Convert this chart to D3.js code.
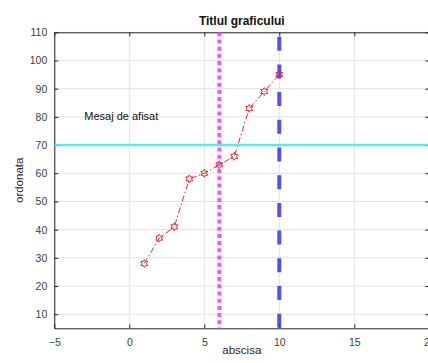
<!DOCTYPE html>
<html>
<head>
<meta charset="utf-8">
<script src="https://cdn.jsdelivr.net/npm/d3@7"></script>
<style>
  body { margin: 0; background: #fff; }
  svg { font-family: "Liberation Sans", Arial, sans-serif; }
</style>
</head>
<body>
<div id="chart"></div>
<script>
// data
var xVals = [1, 2, 3, 4, 5, 6, 7, 8, 9, 10];
var yVals = [28, 37, 41, 58, 60, 63, 66, 83, 89, 95];
var xTicks = [-5, 0, 5, 10, 15, 20];
var yTicks = [10, 20, 30, 40, 50, 60, 70, 80, 90, 100, 110];
var vLineMagenta = 6;
var vLineBlue = 10;
var hLineCyan = 70;
var note = {x: -3, y: 80, text: "Mesaj de afisat"};

var W = 428, H = 363;
var margin = {top: 32.3, left: 54.3},
    width = 375,
    height = 296;

var svg = d3.select("#chart")
    .append("svg")
        .attr("width", W)
        .attr("height", H)
    .append("g")
        .attr("transform", "translate(" + margin.left + "," + margin.top + ")");

var x = d3.scaleLinear().domain([-5, 20]).range([0, width]);
var y = d3.scaleLinear().domain([5, 110]).range([height, 0]);

// grid
svg.append("g")
    .selectAll("line")
    .data(xTicks)
    .enter().append("line")
        .attr("x1", function(d) { return x(d); })
        .attr("x2", function(d) { return x(d); })
        .attr("y1", 0).attr("y2", height)
        .attr("stroke", "#e3e3e3").attr("stroke-width", 1);
svg.append("g")
    .selectAll("line")
    .data(yTicks)
    .enter().append("line")
        .attr("y1", function(d) { return y(d); })
        .attr("y2", function(d) { return y(d); })
        .attr("x1", 0).attr("x2", width)
        .attr("stroke", "#e3e3e3").attr("stroke-width", 1);

// axes (ticks inward)
var axisColor = "#262626";
svg.append("g")
    .attr("transform", "translate(0," + height + ")")
    .call(d3.axisBottom(x).tickValues(xTicks).tickSizeInner(-4).tickSizeOuter(0).tickPadding(10));
svg.append("g")
    .call(d3.axisLeft(y).tickValues(yTicks).tickSizeInner(-4).tickSizeOuter(0).tickPadding(7));
svg.append("g")
    .call(d3.axisTop(x).tickValues(xTicks).tickSizeInner(-4).tickSizeOuter(0).tickFormat(""));
svg.append("g")
    .attr("transform", "translate(" + width + ",0)")
    .call(d3.axisRight(y).tickValues(yTicks).tickSizeInner(-4).tickSizeOuter(0).tickFormat(""));

svg.selectAll(".domain").attr("stroke", axisColor);
svg.selectAll(".tick line").attr("stroke", axisColor);
svg.selectAll(".tick text")
    .attr("fill", "#404040")
    .style("font-size", "10.5px")
    .style("font-family", "inherit");

// data line, dash-dot
var line = d3.line()
    .x(function(d, i) { return x(xVals[i]); })
    .y(function(d) { return y(d); });
svg.append("path")
    .datum(yVals)
    .attr("d", line)
    .attr("fill", "none")
    .attr("stroke", "#e8262a")
    .attr("stroke-width", 1)
    .attr("stroke-dasharray", "6,2.5,1.5,2.5");

// reference lines
svg.append("line")
    .attr("x1", x(vLineMagenta)).attr("x2", x(vLineMagenta))
    .attr("y1", 0).attr("y2", height)
    .attr("stroke", "#ff33ff").attr("stroke-opacity", 0.85)
    .attr("stroke-width", 4)
    .attr("stroke-dasharray", "4,3.2");

svg.append("line")
    .attr("x1", x(vLineBlue)).attr("x2", x(vLineBlue))
    .attr("y1", 0).attr("y2", height)
    .attr("stroke", "#3333ee").attr("stroke-opacity", 0.85)
    .attr("stroke-width", 4)
    .attr("stroke-dasharray", "14,13.7")
    .attr("stroke-dashoffset", 23.3);

svg.append("line")
    .attr("x1", 0).attr("x2", width)
    .attr("y1", y(hLineCyan)).attr("y2", y(hLineCyan))
    .attr("stroke", "#33eeee").attr("stroke-opacity", 0.85)
    .attr("stroke-width", 2.5);

// hexagram markers
function hexagram(r) {
    var pts = [];
    var ri = r / Math.sqrt(3);
    for (var k = 0; k < 12; k++) {
        var a = -Math.PI / 2 + k * Math.PI / 6;
        var rr = (k % 2 === 0) ? r : ri;
        pts.push([rr * Math.cos(a), rr * Math.sin(a)]);
    }
    return "M" + pts.map(function(p) { return p[0].toFixed(2) + "," + p[1].toFixed(2); }).join("L") + "Z";
}
svg.selectAll(".mk")
    .data(yVals)
    .enter().append("path")
        .attr("class", "mk")
        .attr("transform", function(d, i) { return "translate(" + x(xVals[i]) + "," + y(d) + ")"; })
        .attr("d", hexagram(4))
        .attr("fill", "none")
        .attr("stroke", "#e8262a")
        .attr("stroke-width", 1);

// text annotation
svg.append("text")
    .attr("x", x(note.x))
    .attr("y", y(note.y))
    .attr("dominant-baseline", "middle")
    .style("font-size", "11px")
    .attr("fill", "#111")
    .text(note.text);

// title and labels
svg.append("text")
    .attr("x", width / 2)
    .attr("y", -7)
    .attr("text-anchor", "middle")
    .style("font-size", "12px")
    .style("font-weight", "bold")
    .attr("fill", "#111")
    .text("Titlul graficului");

svg.append("text")
    .attr("x", width / 2)
    .attr("y", height + 26)
    .attr("text-anchor", "middle")
    .style("font-size", "11.5px")
    .attr("fill", "#262626")
    .text("abscisa");

svg.append("text")
    .attr("transform", "translate(" + (-31) + "," + (height / 2) + ") rotate(-90)")
    .attr("text-anchor", "middle")
    .style("font-size", "11.5px")
    .attr("fill", "#262626")
    .text("ordonata");
</script>
</body>
</html>
